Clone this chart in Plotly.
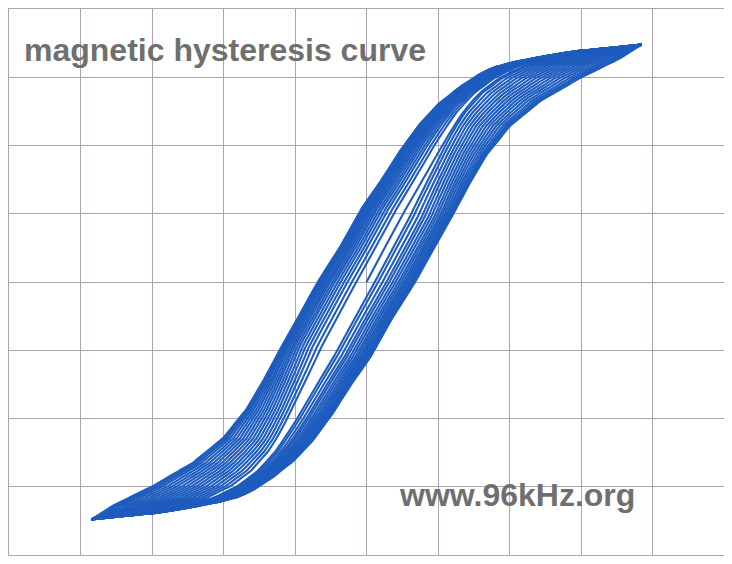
import numpy as np
import plotly.graph_objects as go

# Outer (saturated) descending branch (H, B in grid units)
outer_desc_H = [3.85, 3.41, 2.99, 2.50, 2.05, 1.80, 1.59, 1.31, 1.01, 0.75, 0.47, 0.20, -0.06, -0.36, -0.68,
                -0.92, -1.20, -1.44, -1.69, -2.01, -2.43, -2.99, -3.55, -3.85]
outer_desc_B = [3.48, 3.43, 3.39, 3.31, 3.22, 3.15, 3.05, 2.86, 2.61, 2.32, 1.92, 1.48, 1.09, 0.53, 0.0,
                -0.45, -0.97, -1.44, -1.88, -2.29, -2.65, -2.99, -3.28, -3.48]

# Inner (initial / anhysteretic-like) curve, upper half
inner_H_top = [0.0, 0.27, 0.54, 0.82, 1.10, 1.35, 1.59, 1.87, 2.22, 2.71, 3.27, 3.85]
inner_B_top = [0.0, 0.53, 1.05, 1.56, 2.07, 2.48, 2.77, 2.99, 3.17, 3.31, 3.40, 3.48]

# Position of each successive branch between inner curve (0) and saturated loop (1)
# read at the B = 0 crossing and at the knee of the curve
frac_mid_desc = [0.21, 0.30, 0.39, 0.46, 0.53, 0.59, 0.65, 0.70, 0.75, 0.79, 0.83, 0.87, 0.90, 0.93, 0.95, 0.97, 0.99, 1.00]
frac_mid_asc = [0.17, 0.24, 0.33, 0.41, 0.47, 0.54, 0.60, 0.66, 0.71, 0.76, 0.80, 0.84, 0.88, 0.91, 0.94, 0.96, 0.98, 1.00]
frac_knee = [0.03, 0.09, 0.15, 0.21, 0.27, 0.33, 0.39, 0.45, 0.51, 0.57, 0.63, 0.69, 0.75, 0.81, 0.87, 0.92, 0.96, 1.00]

title_text = "magnetic hysteresis curve"
site_text = "www.96kHz.org"

LINE = "#1e5cbe"
GRID = "#b0a2b2"
TXT = "#6f6f6f"

iH = np.array([-h for h in inner_H_top[::-1]][:-1] + inner_H_top)
iB = np.array([-b for b in inner_B_top[::-1]][:-1] + inner_B_top)
dH = np.array(outer_desc_H[::-1])
dB = np.array(outer_desc_B[::-1])

Bgrid = np.unique(np.concatenate([dB, iB, -dB]))  # ascending B values


def desc_branch(f_mid, f_knee, B):
    I = np.interp(B, iB, iH)
    D = np.interp(B, dB, dH)
    w = np.clip((-B - 0.9) / 1.4, 0, 1)
    f = f_mid * (1 - w) + f_knee * w
    return I + f * (D - I)


fig = go.Figure()

def add(x, y):
    fig.add_trace(go.Scatter(x=x, y=y, mode="lines", line=dict(color=LINE, width=2.1, shape="spline", smoothing=0.6),
                             hoverinfo="skip", showlegend=False))

add(inner_H_top, inner_B_top)

Bd = Bgrid[::-1]
for k in range(len(frac_knee)):
    add(desc_branch(frac_mid_desc[k], frac_knee[k], Bd), Bd)
    add(-desc_branch(frac_mid_asc[k], frac_knee[k], -Bgrid), Bgrid)

fig.add_annotation(text="<b>" + title_text + "</b>", xref="paper", yref="paper", x=0.018, y=0.925,
                   xanchor="left", yanchor="middle", showarrow=False,
                   font=dict(family="Liberation Sans, Arial", size=32, color=TXT))
fig.add_annotation(text="<b>" + site_text + "</b>", xref="paper", yref="paper", x=0.542, y=0.11,
                   xanchor="left", yanchor="middle", showarrow=False,
                   font=dict(family="Liberation Sans, Arial", size=32, color=TXT))

axis_common = dict(showgrid=True, gridcolor=GRID, gridwidth=1, zeroline=False, showticklabels=False,
                   ticks="", showline=True, linecolor=GRID, linewidth=1, mirror=True, dtick=1)
fig.update_xaxes(range=[-5, 5], tick0=-5, **axis_common)
fig.update_yaxes(range=[-4, 4], tick0=-4, **axis_common)
fig.update_layout(width=717, height=548, margin=dict(l=1, r=1, t=1, b=1),
                  paper_bgcolor="white", plot_bgcolor="white")

fig.write_html("out.html")
